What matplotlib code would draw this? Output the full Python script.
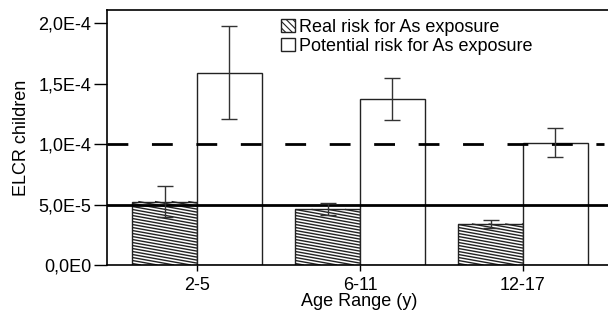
import numpy as np
import matplotlib.pyplot as plt
from matplotlib.collections import LineCollection
from matplotlib.patches import Patch
from matplotlib.transforms import IdentityTransform

plt.rcParams['font.family'] = ['Liberation Sans', 'DejaVu Sans']
plt.rcParams['hatch.linewidth'] = 0.8

# データ
age_ranges = ['2-5', '6-11', '12-17']
real_risk = [5.25e-5, 4.6e-5, 3.4e-5]
real_err = [1.3e-5, 0.5e-5, 0.3e-5]
potential_risk = [1.59e-4, 1.375e-4, 1.01e-4]
potential_err = [3.85e-5, 1.75e-5, 1.2e-5]
yticks = [0, 5e-5, 1e-4, 1.5e-4, 2e-4]
ytick_labels = ['0,0E0', '5,0E-5', '1,0E-4', '1,5E-4', '2,0E-4']

fs = 13
fig = plt.figure(figsize=(6.08, 3.12), dpi=100)
ax = fig.add_axes([107/608, 47/312, 505/608, 255/312])

x = np.arange(len(age_ranges))
w = 0.396
ax.set_xlim(-0.552, 2.546)
ax.set_ylim(0, 2.11e-4)

real_bars = ax.bar(x - w/2, real_risk, w, color='white', edgecolor='#222222',
                   linewidth=1.0, zorder=2)
ax.bar(x + w/2, potential_risk, w, color='white', edgecolor='#222222',
       linewidth=1.0, zorder=2)

# 緩い斜線のハッチング（ピクセル座標で計算し、バーの矩形で切り取る）
slope = 0.18
for bar in real_bars:
    bb = bar.get_window_extent()
    x0, x1, y0, y1 = bb.x0, bb.x1, bb.y0, bb.y1
    segs = []
    drop = slope * (x1 - x0)
    for c in np.arange(y0 + 1.5, y1 + drop, 3.0):
        xa = max(x0, x0 + (c - y1) / slope)
        xb = min(x1, x0 + (c - y0) / slope)
        if xb <= xa:
            continue
        segs.append([(xa, c - slope * (xa - x0)), (xb, c - slope * (xb - x0))])
    lc = LineCollection(segs, colors='#222222', linewidths=1.0,
                        transform=IdentityTransform(), zorder=2.5)
    ax.add_collection(lc, autolim=False)

# 基準線
ax.axhline(5e-5, color='black', linewidth=2, zorder=3)
ax.axhline(1e-4, xmax=0.985, color='black', linewidth=2,
           linestyle=(0, (7.5, 8.5)), zorder=3)

ax.errorbar(x - w/2, real_risk, yerr=real_err, fmt='none', ecolor='#333333',
            elinewidth=1, capsize=5.5, capthick=1, zorder=4)
ax.errorbar(x + w/2, potential_risk, yerr=potential_err, fmt='none', ecolor='#333333',
            elinewidth=1, capsize=5.5, capthick=1, zorder=4)

ax.set_yticks(yticks)
ax.set_yticklabels(ytick_labels, fontsize=fs)
ax.set_xticks(x)
ax.set_xticklabels(age_ranges, fontsize=fs)
ax.tick_params(direction='out', width=1)
ax.tick_params(axis='y', length=9.5, pad=2)
ax.tick_params(axis='x', length=4, pad=5)
ax.set_xlabel('Age Range (y)', fontsize=fs, labelpad=-1)
ax.set_ylabel('ELCR children', fontsize=fs, labelpad=6)
for s in ax.spines.values():
    s.set_linewidth(1.2)
ax.spines['right'].set_visible(False)

handles = [Patch(facecolor='white', edgecolor='#222222', hatch='\\\\\\\\\\', linewidth=1.0),
           Patch(facecolor='white', edgecolor='#222222', linewidth=1.0)]
labels = ['Real risk for As exposure', 'Potential risk for As exposure']
ax.legend(handles, labels, loc='upper left', bbox_to_anchor=(0.345, 0.965),
          frameon=False, fontsize=fs, handlelength=0.75, handleheight=0.75,
          handletextpad=0.25, labelspacing=0.1, borderaxespad=0.0, borderpad=0.0)

fig.savefig('out.png')
